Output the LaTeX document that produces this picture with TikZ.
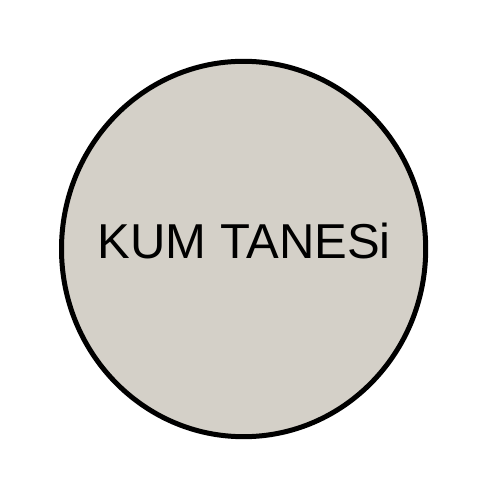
\documentclass[tikz,border=0pt]{standalone}
\usepackage{fontspec}
\setmainfont{Liberation Sans}
\definecolor{sandfill}{HTML}{D4D0C8}
\begin{document}
\begin{tikzpicture}[x=1pt,y=1pt,
  grain/.style={draw=black,line width=5pt,fill=sandfill},
  label/.style={font=\fontsize{49}{58}\selectfont,inner sep=0pt}]
\useasboundingbox (0,0) rectangle (500,500);
\fill[white] (0,0) rectangle (500,500);
\draw[grain] (243.6,251) ellipse [x radius=182.1, y radius=187.7];
\node[label,anchor=base] (t) at (244.2,241.7) {KUM TANESi};
\end{tikzpicture}
\end{document}
